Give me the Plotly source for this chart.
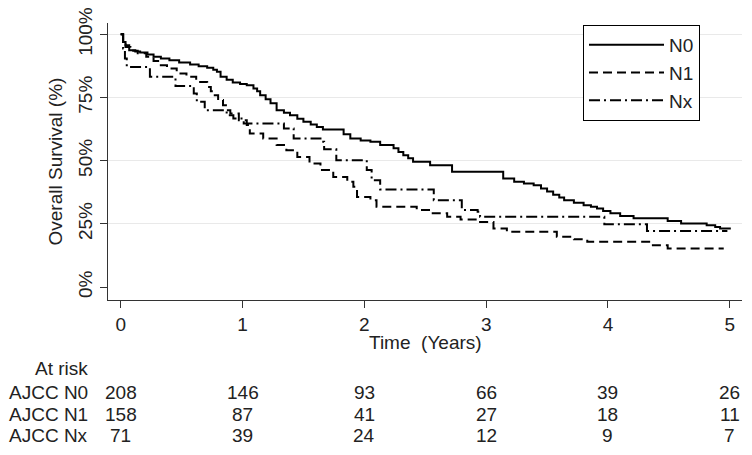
import plotly.graph_objects as go

# ---- Kaplan-Meier step data (time in years, survival in %) ----
n0_time = [0, 0.02, 0.04, 0.07, 0.12, 0.16, 0.22, 0.27, 0.33, 0.40, 0.48, 0.57, 0.64, 0.71, 0.76,
           0.79, 0.82, 0.87, 0.92, 0.98, 1.035, 1.09, 1.12, 1.145, 1.19, 1.23, 1.28, 1.34, 1.39, 1.45,
           1.50, 1.56, 1.61, 1.66, 1.83, 1.885, 1.97, 2.05, 2.13, 2.24, 2.28, 2.32, 2.36, 2.40, 2.54,
           2.72, 3.06, 3.14, 3.23, 3.31, 3.39, 3.45, 3.50, 3.55, 3.60, 3.64, 3.72, 3.80, 3.86, 3.91,
           3.96, 4.02, 4.10, 4.21, 4.49, 4.60, 4.81, 4.88, 4.92, 5.0]
n0_surv = [100, 97, 95.7, 93.7, 93.2, 92.8, 92, 91.1, 90.5, 89.8, 88.9, 88.1, 87.4, 86.8, 86,
           85.2, 83.2, 82, 81, 80.4, 79.9, 78.6, 77.5, 75.9, 74.3, 72.7, 70, 69, 68, 66.6,
           65.4, 64.3, 63.4, 62.4, 60.5, 58.8, 58, 57.5, 56.2, 54.9, 53.5, 52.2, 51, 49.6, 48.2,
           45.6, 45.6, 43, 41.7, 41, 40.3, 39, 37.8, 36.5, 35.5, 34.4, 33.4, 32.4, 31.8, 31.1,
           30.1, 29.2, 28.1, 27.2, 26.2, 25.2, 24.5, 23.8, 23.2, 22.8]

n1_time = [0, 0.02, 0.04, 0.08, 0.14, 0.21, 0.27, 0.32, 0.38, 0.46, 0.54, 0.62, 0.71, 0.74, 0.76,
           0.80, 0.84, 0.88, 0.90, 0.97, 1.035, 1.06, 1.17, 1.28, 1.36, 1.45, 1.55, 1.64, 1.745,
           1.86, 1.91, 1.94, 2.05, 2.10, 2.43, 2.54, 2.68, 2.79, 2.95, 3.06, 3.17, 3.58, 3.72, 3.83,
           4.35, 4.49, 4.95]
n1_surv = [100, 97, 95, 93.5, 92.5, 91.1, 89.5, 87.8, 86.5, 84.5, 83.2, 81.2, 79.2, 77.5, 75.9,
           74, 72, 70, 68.7, 66, 64.1, 60.8, 58.8, 56.2, 54.2, 51.5, 48.9, 46.3, 43.6,
           41.7, 39.7, 35.7, 34.4, 31.8, 30.5, 29.2, 27.8, 26.8, 25.8, 23.2, 21.9, 19.9, 18.9, 17.9,
           16.6, 15.3, 15.3]

nx_time = [0, 0.02, 0.035, 0.05, 0.24, 0.45, 0.60, 0.625, 0.69, 0.87, 0.925, 1.01, 1.34, 1.42,
           1.64, 1.67, 1.77, 2.02, 2.06, 2.13, 2.57, 2.80, 2.93, 2.95, 3.97, 4.32, 4.98]
nx_surv = [100, 94.4, 90.5, 87.1, 83.2, 79.6, 76.6, 73.3, 70, 68, 66.7, 64.7, 62.8, 58.8,
           57.5, 54.5, 50.2, 46.3, 42.3, 38.6, 34.4, 30.5, 29.8, 27.8, 24.9, 22.2, 22.2]

series_names = ["N0", "N1", "Nx"]

# ---- Number at risk table ----
risk_times = [0, 1, 2, 3, 4, 5]
risk_labels = ["AJCC N0", "AJCC N1", "AJCC Nx"]
risk_n0 = [208, 146, 93, 66, 39, 26]
risk_n1 = [158, 87, 41, 27, 18, 11]
risk_nx = [71, 39, 24, 12, 9, 7]

y_ticks = [0, 25, 50, 75, 100]
y_ticklabels = ["0%", "25%", "50%", "75%", "100%"]
x_ticks = [0, 1, 2, 3, 4, 5]

FONT = "Liberation Sans, Arial, sans-serif"
FS = 19
TXT = "#222"

fig = go.Figure()
styles = [dict(color="black", width=2, dash="solid"),
          dict(color="black", width=2, dash="9px,5px"),
          dict(color="black", width=2, dash="11px,4px,2px,4px")]
for name, t, s, st in zip(series_names, [n0_time, n1_time, nx_time],
                          [n0_surv, n1_surv, nx_surv], styles):
    fig.add_trace(go.Scatter(x=t, y=s, mode="lines", name=name,
                             line=dict(shape="hv", **st)))

W, H = 752, 455
L, R, T, B = 108, 10, 23, 155
plot_h = H - T - B
plot_w = W - L - R

def ypaper(py):
    return (H - B - py) / plot_h

def xpaper(px):
    return (px - L) / plot_w

annotations = []
annotations.append(dict(text="Overall Survival (%)", xref="paper", yref="paper",
                        x=xpaper(55), y=0.5, textangle=-90,
                        xanchor="center", yanchor="middle", showarrow=False,
                        font=dict(family=FONT, size=FS, color=TXT)))
annotations.append(dict(text="Time\u00a0 (Years)", xref="paper", yref="paper",
                        x=0.5, y=ypaper(342), xanchor="center", yanchor="middle",
                        showarrow=False, font=dict(family=FONT, size=FS, color=TXT)))
annotations.append(dict(text="At risk", xref="paper", yref="paper",
                        x=xpaper(90), y=ypaper(368), xanchor="right",
                        yanchor="middle", showarrow=False,
                        font=dict(family=FONT, size=FS, color=TXT)))
row_py = [392, 414, 436]
for lab, counts, py in zip(risk_labels, [risk_n0, risk_n1, risk_nx], row_py):
    annotations.append(dict(text=lab, xref="paper", yref="paper",
                            x=xpaper(90), y=ypaper(py), xanchor="right",
                            yanchor="middle", showarrow=False,
                            font=dict(family=FONT, size=FS, color=TXT)))
    for tt, c in zip(risk_times, counts):
        annotations.append(dict(text=str(c), xref="x", yref="paper", x=tt, y=ypaper(py),
                                xanchor="center", yanchor="middle", showarrow=False,
                                font=dict(family=FONT, size=FS, color=TXT)))

fig.update_layout(
    width=W, height=H,
    margin=dict(l=L, r=R, t=T, b=B, pad=0, autoexpand=False),
    paper_bgcolor="white", plot_bgcolor="white",
    font=dict(family=FONT, size=FS, color=TXT),
    showlegend=True,
    legend=dict(x=xpaper(583), y=ypaper(25), xanchor="left", yanchor="top",
                bordercolor="black", borderwidth=1, bgcolor="white",
                font=dict(family=FONT, size=FS, color=TXT),
                itemwidth=75, tracegroupgap=0),
    xaxis=dict(range=[-0.104, 5.10], tickvals=x_ticks, ticks="outside", ticklen=7,
               tickcolor="#333", showline=True, linecolor="#333", linewidth=1.3,
               showgrid=False, zeroline=False, tickfont=dict(size=FS)),
    yaxis=dict(range=[-5.1, 104.5], tickvals=y_ticks, ticktext=y_ticklabels,
               tickangle=-90, ticks="outside", ticklen=7, tickcolor="#333",
               showline=True, linecolor="#333", linewidth=1.3,
               showgrid=True, gridcolor="#e9e9e9", gridwidth=1,
               zeroline=True, zerolinecolor="white", zerolinewidth=2,
               tickfont=dict(size=FS)),
    annotations=annotations,
)

fig.write_html("out.html",
               config={"displayModeBar": False},
               post_script="document.body.style.margin='0';document.body.style.padding='0';")
